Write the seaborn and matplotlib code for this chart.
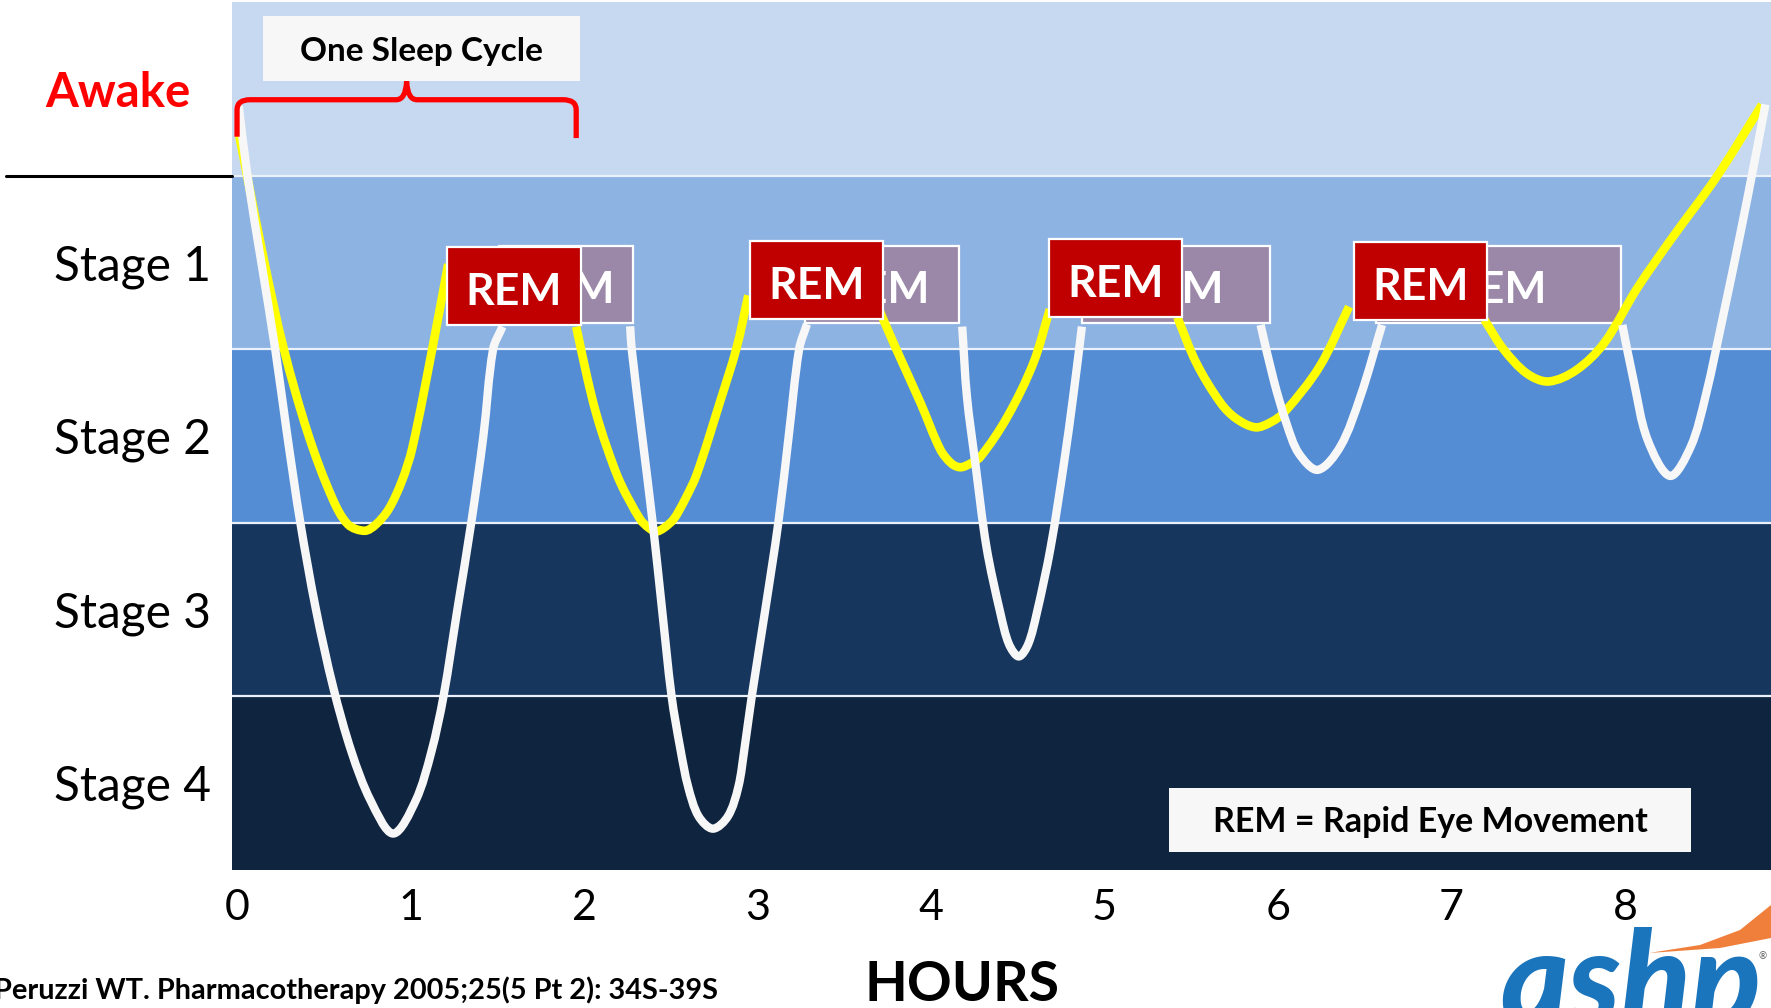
import matplotlib
matplotlib.use("Agg")
import matplotlib.pyplot as plt
import numpy as np
import pandas as pd
import seaborn as sns
from matplotlib.patches import Rectangle, Polygon, PathPatch
from matplotlib.path import Path
from matplotlib.lines import Line2D

# ---------------------------------------------------------------- data
stage_names = ["Awake", "Stage 1", "Stage 2", "Stage 3", "Stage 4"]
hour_ticks = [0, 1, 2, 3, 4, 5, 6, 7, 8]

# Young-adult hypnogram (white line); depth 0 = awake, 4 = stage 4.
# Each segment stops where a REM period label takes over.
young_segment = ([1] * 19 + [2] * 19 + [3] * 13 + [4] * 8 + [5] * 10)
young_hours = [
    0.01, 0.06, 0.14, 0.22, 0.29, 0.365, 0.455, 0.555, 0.66, 0.77,
    0.90, 1.03, 1.12, 1.19, 1.27, 1.35, 1.42, 1.476, 1.53,
    2.266, 2.275, 2.335, 2.396, 2.45, 2.505, 2.555, 2.60, 2.66, 2.743,
    2.83, 2.89, 2.925, 2.967, 3.045, 3.12, 3.18, 3.24, 3.285,
    4.18, 4.207, 4.256, 4.32, 4.40, 4.45, 4.506, 4.56, 4.61, 4.69,
    4.766, 4.82, 4.87,
    5.90, 5.976, 6.05, 6.12, 6.23, 6.36, 6.476, 6.60,
    7.985, 8.05, 8.13, 8.26, 8.38, 8.465, 8.57, 8.67, 8.745, 8.81,
]
young_depth = [
    0.10, 0.50, 1.00, 1.50, 2.00, 2.50, 3.00, 3.45, 3.82, 4.10,
    4.29, 4.10, 3.82, 3.50, 3.00, 2.50, 2.00, 1.50, 1.37,
    1.368, 1.50, 2.00, 2.50, 3.00, 3.50, 3.80, 4.02, 4.19, 4.262,
    4.19, 4.02, 3.80, 3.50, 3.00, 2.50, 2.00, 1.50, 1.356,
    1.37, 1.77, 2.16, 2.64, 3.02, 3.20, 3.27, 3.20, 3.02, 2.64,
    2.16, 1.77, 1.37,
    1.36, 1.68, 1.93, 2.10, 2.195, 2.06, 1.77, 1.36,
    1.36, 1.68, 2.02, 2.23, 2.06, 1.77, 1.29, 0.81, 0.43, 0.09,
]

# Elderly hypnogram (yellow line)
older_segment = ([1] * 14 + [2] * 15 + [3] * 11 + [4] * 9 + [5] * 10)
older_hours = [
    0.013, 0.058, 0.16, 0.27, 0.41, 0.55, 0.64, 0.736, 0.80, 0.875,
    0.95, 1.01, 1.125, 1.217,
    1.955, 2.02, 2.07, 2.13, 2.21, 2.324, 2.374, 2.416, 2.46, 2.516,
    2.58, 2.65, 2.785, 2.88, 2.947,
    3.70, 3.80, 3.94, 4.055, 4.12, 4.17, 4.225, 4.285, 4.44, 4.59, 4.685,
    5.42, 5.53, 5.67, 5.76, 5.87, 5.96, 6.04, 6.24, 6.41,
    7.19, 7.30, 7.435, 7.56, 7.72, 7.88, 8.07, 8.264, 8.53, 8.79,
]
older_depth = [
    0.27, 0.50, 1.01, 1.50, 1.99, 2.36, 2.51, 2.546, 2.51, 2.42,
    2.26, 2.07, 1.50, 1.01,
    1.37, 1.67, 1.87, 2.06, 2.27, 2.48, 2.53, 2.55, 2.53, 2.48,
    2.37, 2.22, 1.80, 1.49, 1.19,
    1.27, 1.50, 1.81, 2.08, 2.16, 2.18, 2.16, 2.12, 1.89, 1.58, 1.27,
    1.316, 1.58, 1.81, 1.90, 1.95, 1.92, 1.86, 1.60, 1.255,
    1.33, 1.50, 1.64, 1.686, 1.62, 1.465, 1.15, 0.87, 0.505, 0.092,
]

# REM periods in hours: elderly (red labels) and young adult (purple labels)
rem_older_start = [1.212, 2.957, 4.682, 6.440]
rem_older_end = [1.982, 3.721, 5.445, 7.203]
rem_young_start = [1.512, 3.274, 4.870, 6.568]
rem_young_end = [2.282, 4.160, 5.954, 7.975]

# Span of the first sleep cycle (hours)
cycle_start, cycle_end = 0.0, 1.955

# ---------------------------------------------------------------- style
band_colors = ["#C6D9F1", "#8DB3E2", "#548DD4", "#17365D", "#0F243E"]
RED = "#C00000"
PURPLE = "#9B88A9"
WHITE_LINE = "#F7F7F7"
YELLOW = "#FFFF00"
RED_TOPS = [0.914, 0.877, 0.867, 0.884]
RED_HEIGHT = 0.447
PURPLE_TOP, PURPLE_HEIGHT = 0.903, 0.447
LABEL_DROP = 0.035   # optical centring of the "REM" captions

sns.set_theme(style="white")
plt.rcParams["font.family"] = ["Lato", "DejaVu Sans"]

W, H = 1771, 1008
fig = plt.figure(figsize=(W / 100, H / 100), dpi=100)
fig.patch.set_facecolor("white")


def fx(px):
    return px / W


def fy(py):
    return 1 - py / H


def smooth_lines(ax, lines, zorder):
    """Redraw polylines as smooth cubic Bezier paths through the same vertices."""
    for line in lines:
        P = np.asarray(line.get_xydata(), dtype=float)
        n = len(P)
        t = np.concatenate([[0.0], np.cumsum(np.hypot(*np.diff(P, axis=0).T))])
        tang = np.zeros_like(P)
        tang[0] = (P[1] - P[0]) / (t[1] - t[0])
        tang[-1] = (P[-1] - P[-2]) / (t[-1] - t[-2])
        for i in range(1, n - 1):
            tang[i] = (P[i + 1] - P[i - 1]) / (t[i + 1] - t[i - 1])
        verts, codes = [P[0]], [Path.MOVETO]
        for i in range(n - 1):
            h = t[i + 1] - t[i]
            verts += [P[i] + tang[i] * h / 3, P[i + 1] - tang[i + 1] * h / 3,
                      P[i + 1]]
            codes += [Path.CURVE4] * 3
        ax.add_patch(PathPatch(Path(verts, codes), facecolor="none",
                               edgecolor=line.get_color(),
                               lw=line.get_linewidth(), capstyle="butt",
                               joinstyle="round", zorder=zorder))
        line.remove()


ax = fig.add_axes([fx(232), fy(870), fx(1771) - fx(232), fy(2) - fy(870)])

# stage bands
for i, col in enumerate(band_colors):
    ax.axhspan(i - 0.5, i + 0.5, color=col, lw=0, zorder=0)
for i in range(len(band_colors) - 1):
    ax.axhline(i + 0.5, color="#EAF1FA", lw=1.6, zorder=0.5)

# purple REM labels (young adult) sit beneath the yellow line
for s, e in zip(rem_young_start, rem_young_end):
    ax.add_patch(Rectangle((s, PURPLE_TOP), e - s, PURPLE_HEIGHT,
                           facecolor=PURPLE, edgecolor="white", lw=1.6,
                           zorder=2))
    ax.text((s + e) / 2, PURPLE_TOP + PURPLE_HEIGHT / 2 + LABEL_DROP, "REM",
            ha="center", va="center", color="white", fontsize=32,
            fontweight="bold", zorder=2.1)

# hypnograms
young_df = pd.DataFrame({"hours": young_hours, "depth": young_depth,
                         "segment": young_segment})
older_df = pd.DataFrame({"hours": older_hours, "depth": older_depth,
                         "segment": older_segment})

n0 = len(ax.lines)
sns.lineplot(data=older_df, x="hours", y="depth", units="segment",
             estimator=None, sort=False, color=YELLOW, lw=6.2, ax=ax,
             legend=False)
n1 = len(ax.lines)
sns.lineplot(data=young_df, x="hours", y="depth", units="segment",
             estimator=None, sort=False, color=WHITE_LINE, lw=6.0, ax=ax,
             legend=False)
n2 = len(ax.lines)
older_lines = list(ax.lines[n0:n1])
young_lines = list(ax.lines[n1:n2])
smooth_lines(ax, older_lines, zorder=3)
smooth_lines(ax, young_lines, zorder=3.5)

# red REM labels (elderly) on top
for s, e, top in zip(rem_older_start, rem_older_end, RED_TOPS):
    ax.add_patch(Rectangle((s, top), e - s, RED_HEIGHT, facecolor=RED,
                           edgecolor="white", lw=1.6, zorder=4))
    ax.text((s + e) / 2, top + RED_HEIGHT / 2 + LABEL_DROP, "REM",
            ha="center", va="center", color="white", fontsize=32,
            fontweight="bold", zorder=4.1)

# brace marking one sleep cycle
mid = (cycle_start + cycle_end) / 2
c0, c1 = cycle_start, cycle_end
verts = [
    (c0, 0.276), (c0, 0.121),
    (c0, 0.063), (c0 + 0.075, 0.063),
    (mid - 0.06, 0.063),
    (mid - 0.005, 0.063), (mid, -0.042),
    (mid + 0.005, 0.063), (mid + 0.06, 0.063),
    (c1 - 0.075, 0.063),
    (c1, 0.063), (c1, 0.121),
    (c1, 0.284),
]
codes = [Path.MOVETO, Path.LINETO, Path.CURVE3, Path.CURVE3, Path.LINETO,
         Path.CURVE3, Path.CURVE3, Path.CURVE3, Path.CURVE3, Path.LINETO,
         Path.CURVE3, Path.CURVE3, Path.LINETO]
ax.add_patch(PathPatch(Path(verts, codes), facecolor="none",
                       edgecolor="#FF0000", lw=3.8, capstyle="butt",
                       joinstyle="round", zorder=5))

# axes
ax.set_xlim(-0.029, 8.842)
ax.set_ylim(4.5, -0.5)
ax.set_xticks(hour_ticks)
ax.set_xticklabels([str(h) for h in hour_ticks], fontsize=31)
ax.set_yticks([1, 2, 3, 4])
ax.set_yticklabels(stage_names[1:], fontsize=34.5)
ax.tick_params(axis="x", length=0, pad=14, colors="black")
ax.tick_params(axis="y", length=0, pad=15, colors="black")
ax.set_xlabel("")
ax.set_ylabel("")
for sp in ax.spines.values():
    sp.set_visible(False)

# "Awake" label and divider
fig.text(fx(118), fy(93), stage_names[0], ha="center", va="center",
         color="#FF0000", fontsize=34, fontweight="bold")
fig.add_artist(Line2D([fx(6), fx(232)], [fy(176), fy(176)], color="black",
                      lw=2.2, transform=fig.transFigure))

# callout boxes
fig.add_artist(Rectangle((fx(263), fy(81)), fx(580) - fx(263),
                         fy(16) - fy(81), transform=fig.transFigure,
                         facecolor="#F7F7F7", edgecolor="none", zorder=6))
fig.text(fx(421), fy(51), "One Sleep Cycle", ha="center", va="center",
         fontsize=24, fontweight="bold", color="black", zorder=7)

fig.add_artist(Rectangle((fx(1169), fy(852)), fx(1691) - fx(1169),
                         fy(788) - fy(852), transform=fig.transFigure,
                         facecolor="#F7F7F7", edgecolor="none", zorder=6))
fig.text(fx(1430), fy(822), "REM = Rapid Eye Movement", ha="center",
         va="center", fontsize=24.5, fontweight="bold", color="black",
         zorder=7)

# axis title and source
fig.text(fx(962), fy(985), "HOURS", ha="center", va="center", fontsize=40,
         fontweight="bold", color="black")
fig.text(fx(-6), fy(990), "Peruzzi WT. Pharmacotherapy 2005;25(5 Pt 2): 34S-39S",
         ha="left", va="center", fontsize=20.8, fontweight="bold",
         color="black")

# ashp mark
swoosh = [(1649, 953), (1700, 945), (1740, 930), (1771, 905), (1771, 938),
          (1720, 948)]
fig.add_artist(Polygon([(fx(x), fy(y)) for x, y in swoosh], closed=True,
                       transform=fig.transFigure, facecolor="#F07F3C",
                       edgecolor="none"))
fig.text(fx(1500), fy(1024), "ashp", ha="left", va="baseline", fontsize=93,
         fontweight="black", fontstyle="italic", color="#1B75BC")
fig.text(fx(1763), fy(957), "\u00ae", ha="center", va="center", fontsize=7,
         color="#555555")

fig.savefig("out.png", dpi=100)
